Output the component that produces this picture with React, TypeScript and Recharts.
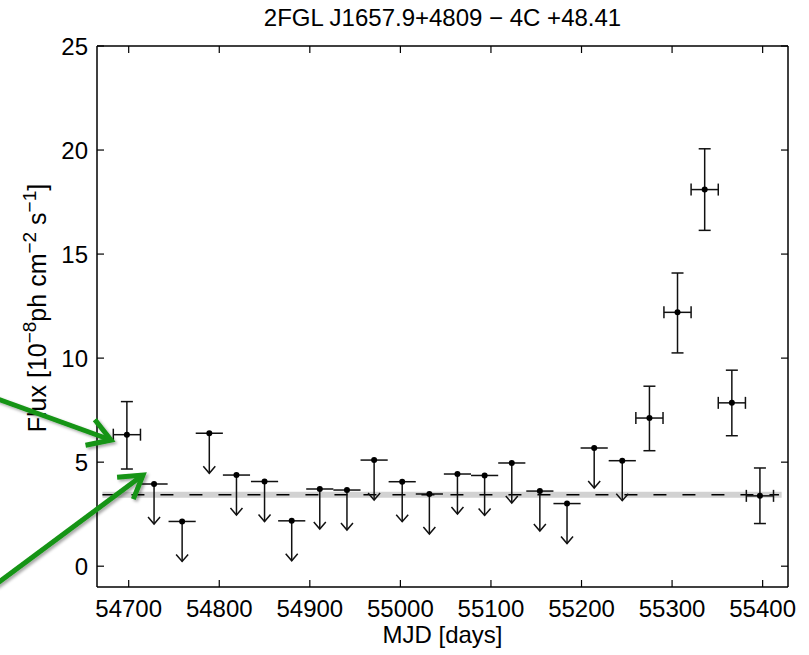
import React from 'react';
import { ScatterChart, Scatter, XAxis, YAxis, ErrorBar, ReferenceLine, Label } from 'recharts';

// detections (MJD bin centre, flux, lower / upper error)
const detMjd = [54698, 55275, 55306, 55336, 55366, 55397];
const detFlux = [6.32, 7.12, 12.2, 18.1, 7.85, 3.38];
const detErrLo = [1.65, 1.57, 1.95, 1.96, 1.58, 1.33];
const detErrHi = [1.59, 1.53, 1.89, 1.96, 1.57, 1.34];

// 95% upper limits
const ulMjd = [
  54728, 54759, 54789, 54819, 54850, 54880, 54911, 54941, 54971,
  55002, 55032, 55063, 55093, 55123, 55154, 55184, 55214, 55245,
];
const ulFlux = [
  3.95, 2.15, 6.39, 4.38, 4.07, 2.18, 3.71, 3.66, 5.1,
  4.06, 3.47, 4.43, 4.36, 4.96, 3.61, 3.01, 5.68, 5.07,
];

const binHalf = 15;
const meanFlux = 3.43;
const xTicks = [54700, 54800, 54900, 55000, 55100, 55200, 55300, 55400];
const yTicks = [0, 5, 10, 15, 20, 25];

const detections = detMjd.map((m, i) => ({
  mjd: m,
  flux: detFlux[i],
  xErr: binHalf,
  yErr: [detErrLo[i], detErrHi[i]],
}));
const upperLimits = ulMjd.map((m, i) => ({ mjd: m, flux: ulFlux[i], xErr: binHalf }));

const font = "'Liberation Sans', Arial, Helvetica, sans-serif";
const ink = '#111';

const Dot = (props: any) => {
  const { cx, cy } = props;
  if (cx == null || cy == null) return null;
  return <circle cx={cx} cy={cy} r={3} fill="#000" />;
};

const UpperLimit = (props: any) => {
  const { cx, cy } = props;
  if (cx == null || cy == null) return null;
  return (
    <g>
      <line x1={cx} y1={cy} x2={cx} y2={cy + 40} stroke={ink} strokeWidth={1.5} />
      <polyline
        points={`${cx - 6},${cy + 33} ${cx},${cy + 40} ${cx + 6},${cy + 33}`}
        fill="none"
        stroke={ink}
        strokeWidth={1.5}
      />
      <circle cx={cx} cy={cy} r={3} fill="#000" />
    </g>
  );
};

const GreenArrow = ({ x1, y1, x2, y2 }: { x1: number; y1: number; x2: number; y2: number }) => {
  const ang = Math.atan2(y2 - y1, x2 - x1);
  const len = 26;
  const spread = 0.55;
  const a = [x2 - len * Math.cos(ang - spread), y2 - len * Math.sin(ang - spread)];
  const b = [x2 - len * Math.cos(ang + spread), y2 - len * Math.sin(ang + spread)];
  return (
    <g filter="url(#shadow)" stroke="#149414" strokeWidth={5} fill="none">
      <line x1={x1} y1={y1} x2={x2 - 3 * Math.cos(ang)} y2={y2 - 3 * Math.sin(ang)} />
      <polyline points={`${a[0]},${a[1]} ${x2},${y2} ${b[0]},${b[1]}`} strokeLinejoin="miter" />
    </g>
  );
};

export default function App() {
  return (
    <div style={{ position: 'absolute', left: 0, top: 0, width: 809, height: 655, background: '#fff' }}>
      <ScatterChart
        width={809}
        height={655}
        margin={{ top: 36, right: 11, bottom: 8, left: 37 }}
        style={{ fontFamily: font }}
      >
        <XAxis
          dataKey="mjd"
          type="number"
          domain={[54665, 55428]}
          ticks={xTicks}
          allowDataOverflow
          height={60}
          tickSize={-7}
          tickMargin={20}
          axisLine={{ stroke: '#000', strokeWidth: 1.5 }}
          tickLine={{ stroke: '#000', strokeWidth: 1.2 }}
          tick={{ fill: '#000', fontSize: 24, fontFamily: font }}
        >
          <Label
            content={() => (
              <text x={442.5} y={643} textAnchor="middle" fontSize={24} fontFamily={font} fill="#000">
                MJD [days]
              </text>
            )}
          />
        </XAxis>
        <XAxis
          xAxisId="top"
          orientation="top"
          dataKey="mjd"
          type="number"
          domain={[54665, 55428]}
          ticks={xTicks}
          allowDataOverflow
          height={10}
          tickSize={-7}
          axisLine={{ stroke: '#000', strokeWidth: 1.5 }}
          tickLine={{ stroke: '#000', strokeWidth: 1.2 }}
          tick={() => <g />}
        >
          <Label
            content={() => (
              <text x={442.5} y={26} textAnchor="middle" fontSize={24} fontFamily={font} fill="#000">
                2FGL J1657.9+4809 − 4C +48.41
              </text>
            )}
          />
        </XAxis>
        <YAxis
          dataKey="flux"
          type="number"
          domain={[-1, 25]}
          ticks={yTicks}
          allowDataOverflow
          width={60}
          tickSize={-7}
          tickMargin={16}
          axisLine={{ stroke: '#000', strokeWidth: 1.5 }}
          tickLine={{ stroke: '#000', strokeWidth: 1.2 }}
          tick={{ fill: '#000', fontSize: 24, fontFamily: font }}
        >
          <Label
            content={() => (
              <text
                x={46}
                y={308}
                transform="rotate(-90 46 308)"
                textAnchor="middle"
                fontSize={25}
                fontFamily={font}
                fill="#000"
              >
                Flux [10
                <tspan dy={-10} fontSize={19}>−8</tspan>
                <tspan dy={10}>ph cm</tspan>
                <tspan dy={-10} fontSize={19}>−2</tspan>
                <tspan dy={10}> s</tspan>
                <tspan dy={-10} fontSize={19}>−1</tspan>
                <tspan dy={10}>]</tspan>
              </text>
            )}
          />
        </YAxis>
        <YAxis
          yAxisId="right"
          orientation="right"
          type="number"
          domain={[-1, 25]}
          ticks={yTicks}
          allowDataOverflow
          width={10}
          tickSize={-7}
          axisLine={{ stroke: '#000', strokeWidth: 1.5 }}
          tickLine={{ stroke: '#000', strokeWidth: 1.2 }}
          tick={() => <g />}
        />
        <ReferenceLine
          segment={[{ x: 54671, y: meanFlux }, { x: 55421, y: meanFlux }]}
          stroke="#d2d2d2"
          strokeWidth={6}
        />
        <ReferenceLine
          segment={[{ x: 54671, y: meanFlux }, { x: 55418, y: meanFlux }]}
          stroke="#000"
          strokeWidth={1.6}
          strokeDasharray="13 16"
        />
        <Scatter data={upperLimits} shape={<UpperLimit />} isAnimationActive={false}>
          <ErrorBar dataKey="xErr" direction="x" width={0} stroke={ink} strokeWidth={1.5} />
        </Scatter>
        <Scatter data={detections} shape={<Dot />} isAnimationActive={false}>
          <ErrorBar dataKey="xErr" direction="x" width={6} stroke={ink} strokeWidth={1.5} />
          <ErrorBar dataKey="yErr" direction="y" width={6} stroke={ink} strokeWidth={1.5} />
        </Scatter>
      </ScatterChart>
      <svg
        width={809}
        height={655}
        style={{ position: 'absolute', left: 0, top: 0, pointerEvents: 'none' }}
      >
        <defs>
          <filter id="shadow" x="-20%" y="-20%" width="140%" height="140%">
            <feDropShadow dx="2" dy="2" stdDeviation="1.5" floodColor="#000" floodOpacity="0.35" />
          </filter>
        </defs>
        <GreenArrow x1={-5} y1={398} x2={111} y2={440} />
        <GreenArrow x1={-5} y1={585} x2={143} y2={475} />
      </svg>
    </div>
  );
}
